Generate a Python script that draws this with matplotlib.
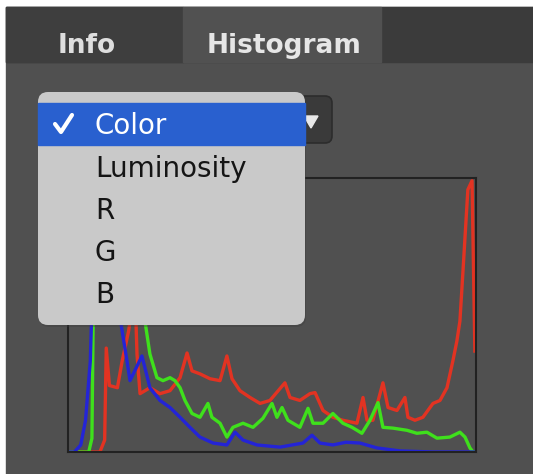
import matplotlib.pyplot as plt
from matplotlib.patches import Rectangle, FancyBboxPatch, Polygon

# histogram curves: level (0-255) and height (% of the box)
blue_x = [0, 4, 8, 11, 14, 16, 18, 22, 26, 31, 34, 37, 38.9, 46.4, 51.4, 57.7, 64, 70.3,
          76.5, 82.8, 91, 99.7, 104.8, 109.8, 118.6, 133, 147.4, 153.1, 158.1, 166.2,
          174.4, 183.2, 193.9, 208.3, 229, 255]
blue_y = [0, 0, 2.6, 11.7, 33.6, 73.7, 92.7, 88, 80, 55.5, 44.5, 33.6, 26.3, 35.4, 23.7,
          19.0, 16.4, 12.8, 9.1, 5.5, 3.3, 2.6, 7.3, 4.4, 2.6, 1.8, 3.3, 6.2, 3.3, 2.6,
          3.6, 3.3, 1.5, 0.4, 0, 0]

green_x = [0, 13, 15, 16, 18, 20, 26, 33, 39, 45, 48.3, 51.4, 55.8, 59.6, 64, 67.1, 70.3,
           73.4, 77.8, 82.8, 87.8, 90.3, 95.4, 99.7, 103.5, 109.8, 116.1, 122.3, 128,
           131.1, 134.3, 138, 145.5, 150.6, 153.7, 160, 166.2, 172.5, 178.2, 184.4,
           189.5, 194.5, 197.6, 203.9, 212.7, 218.9, 225.2, 231.5, 239.6, 245.9, 249.1,
           252.2, 254.1, 255]
green_y = [0, 0, 5, 60, 100, 95, 85, 90, 80, 65, 48.2, 36.1, 27.4, 26.3, 27.4, 26.3, 23.7,
           19.0, 14.2, 12.8, 17.9, 12.8, 10.6, 5.5, 9.1, 10.6, 9.1, 12.4, 17.9, 12.8, 16.4,
           11.7, 9.1, 16.1, 10.6, 10.6, 14.2, 10.6, 9.1, 6.9, 11.7, 18.2, 9.1, 8.8, 8.0,
           6.9, 7.3, 5.1, 5.5, 7.3, 5.5, 1.5, 0, 0]

red_x = [0, 20, 23, 24, 26, 31, 34, 38, 42, 43.3, 45.2, 51.4, 57.7, 64, 70.3, 74.7, 77.8,
         82.8, 89.1, 95.4, 99.7, 102.9, 107.9, 114.2, 120.5, 126.7, 136.1, 139.3, 145.5,
         151.8, 155, 160, 166.2, 172.5, 181.3, 185.1, 187.6, 191.3, 197.6, 200.8, 206.4,
         211.4, 213.3, 217.7, 222.7, 229, 233.4, 237.8, 241.5, 244, 245.9, 247.8, 250.9,
         253.5, 255.3]
red_y = [0, 0, 4.4, 38.3, 24.5, 23.7, 33.6, 44.5, 60, 36, 21.5, 23.7, 21.5, 22.6, 27.4,
         36.5, 29.9, 28.8, 27.0, 26.3, 35.4, 27.0, 22.6, 20.1, 17.9, 19.0, 25.5, 20.1,
         19.0, 21.5, 21.9, 15.3, 12.8, 11.7, 10.6, 20.1, 11.7, 11.7, 25.5, 16.4, 15.3,
         20.1, 12.8, 11.7, 12.8, 17.9, 19.0, 23.7, 33.6, 40.9, 48.2, 66.4, 96.7, 100, 37.2]

tabs = ["Info", "Histogram"]
menu_items = ["Color", "Luminosity", "R", "G", "B"]

W, H = 533, 474
fig = plt.figure(figsize=(W / 100, H / 100), dpi=100)
fig.patch.set_facecolor("white")

# panel background, tabs, popup button
bg = fig.add_axes([0, 0, 1, 1])
bg.set_xlim(0, W)
bg.set_ylim(H, 0)
bg.axis("off")
bg.add_patch(Rectangle((6, 7), W - 6, H - 7, color="#505050"))
bg.add_patch(Rectangle((6, 7), W - 6, 55, color="#3b3b3b"))
bg.add_patch(Rectangle((6, 7), 177, 55, color="#3e3e3e"))
bg.add_patch(Rectangle((183, 7), 198, 55, color="#515151"))
bg.text(58, 53, tabs[0], color="#dedede", fontsize=19, fontweight="bold")
bg.text(207, 53, tabs[1], color="#e6e6e6", fontsize=19, fontweight="bold")
bg.add_patch(FancyBboxPatch((40, 96), 292, 47, boxstyle="round,pad=0,rounding_size=7",
                            fc="#3a3a3a", ec="#2c2c2c", lw=1.2))
bg.add_patch(Polygon([[304, 116], [318, 116], [311, 128]], closed=True, color="#e8e8e8"))

# histogram
ax = fig.add_axes([68 / W, (H - 452) / H, 408 / W, 274 / H], zorder=2)
ax.set_facecolor("none")
ax.plot(red_x, red_y, color="#e23322", lw=2.4, solid_joinstyle="round")
ax.plot(green_x, green_y, color="#3fe01c", lw=2.4, solid_joinstyle="round")
ax.plot(blue_x, blue_y, color="#2424d6", lw=2.4, solid_joinstyle="round")
ax.set_xlim(0, 256)
ax.set_ylim(0, 101)
ax.set_xticks([])
ax.set_yticks([])
for s in ax.spines.values():
    s.set_color("#222222")
    s.set_linewidth(1.5)

# drop-down menu on top
top = fig.add_axes([0, 0, 1, 1], zorder=5)
top.set_xlim(0, W)
top.set_ylim(H, 0)
top.axis("off")
top.patch.set_alpha(0)
top.add_patch(FancyBboxPatch((39, 94), 267, 233, boxstyle="round,pad=0,rounding_size=10",
                             fc="#3a3a3a", ec="none", alpha=0.35))
top.add_patch(FancyBboxPatch((38, 92), 267, 233, boxstyle="round,pad=0,rounding_size=10",
                             fc="#c9c9c9", ec="none"))
top.add_patch(Rectangle((38, 103), 267, 42, color="#2960cf"))
# check mark
top.plot([55, 61, 72], [124, 132, 115], color="white", lw=3, solid_capstyle="round",
         solid_joinstyle="round")
baselines = [134, 177, 219, 261, 303]
for i, (lab, yb) in enumerate(zip(menu_items, baselines)):
    top.text(95, yb, lab, color="white" if i == 0 else "#151515", fontsize=20)

fig.savefig("out.png", dpi=100)
